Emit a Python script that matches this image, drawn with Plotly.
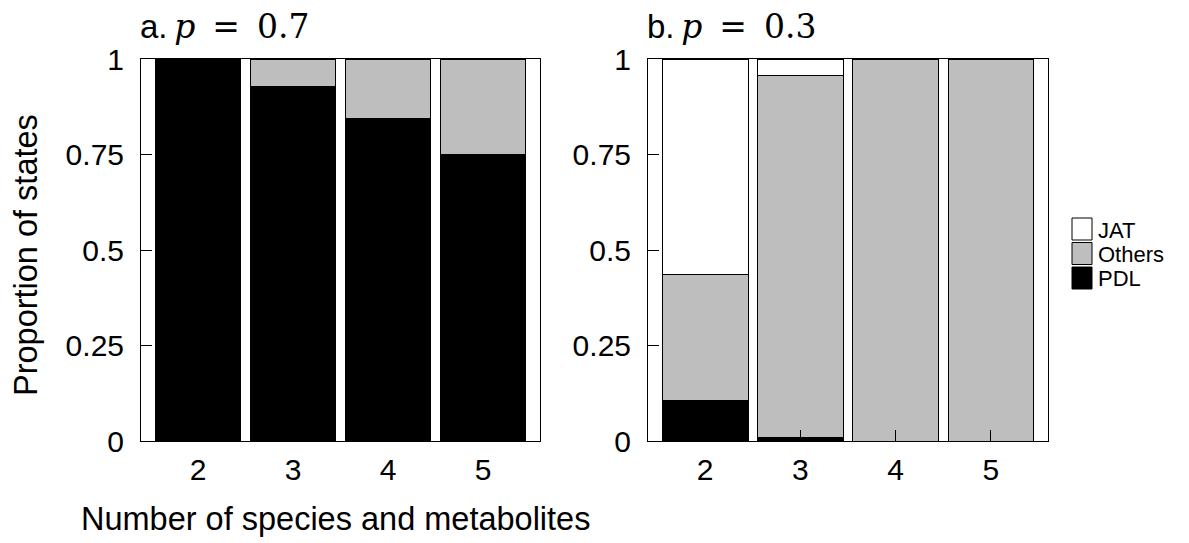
import plotly.graph_objects as go

categories = [2, 3, 4, 5]
a_pdl = [1.0, 0.929, 0.843, 0.749]
a_others = [0.0, 0.071, 0.157, 0.251]
a_jat = [0.0, 0.0, 0.0, 0.0]
b_pdl = [0.105, 0.008, 0.0, 0.0]
b_others = [0.330, 0.948, 1.0, 1.0]
b_jat = [0.565, 0.044, 0.0, 0.0]
y_ticks = [0, 0.25, 0.5, 0.75, 1]
y_ticklabels = ["0", "0.25", "0.5", "0.75", "1"]
series_names = ["PDL", "Others", "JAT"]
series_colors = ["#000000", "#bebebe", "#ffffff"]
legend_names = ["JAT", "Others", "PDL"]
legend_colors = ["#ffffff", "#bebebe", "#000000"]
panel_titles = [("a.", "0.7"), ("b.", "0.3")]

W, H = 1189, 543
OFF = 8  # page body margin
FONT = "Liberation Sans, Arial, Helvetica, sans-serif"
MATH = "DejaVu Serif, Liberation Serif, serif"

fig = go.Figure()
panels = [("x", "y", [a_pdl, a_others, a_jat]), ("x2", "y2", [b_pdl, b_others, b_jat])]
for xa, ya, series in panels:
    for name, col, vals in zip(series_names, series_colors, series):
        fig.add_trace(go.Bar(
            x=categories, y=vals, name=name, xaxis=xa, yaxis=ya,
            marker=dict(color=col, line=dict(color="black", width=1)),
            width=0.9, showlegend=False,
        ))


def px_x(v):
    return (v - OFF) / W


def px_y(v):
    return 1 - (v - OFF) / H


ydom = [px_y(441), px_y(59)]
axis_common = dict(
    showline=True, linecolor="black", linewidth=1, mirror=True,
    ticks="inside", ticklen=11, tickwidth=1, tickcolor="black",
    showgrid=False, zeroline=False, automargin=False,
    tickfont=dict(family=FONT, size=30, color="black"),
)
fig.update_layout(
    template="none",
    width=W, height=H,
    margin=dict(l=0, r=0, t=0, b=0, pad=0),
    paper_bgcolor="white", plot_bgcolor="white",
    barmode="stack", bargap=0.1,
    font=dict(family=FONT, color="black"),
    showlegend=False,
    xaxis=dict(domain=[px_x(141), px_x(540)], range=[1.4, 5.6], tickvals=categories,
               anchor="y", ticklabelstandoff=2, **axis_common),
    yaxis=dict(domain=ydom, range=[0, 1], tickvals=y_ticks, ticktext=y_ticklabels,
               anchor="x", ticklabelstandoff=10, **axis_common),
    xaxis2=dict(domain=[px_x(648), px_x(1048)], range=[1.4, 5.6], tickvals=categories,
                anchor="y2", ticklabelstandoff=2, **axis_common),
    yaxis2=dict(domain=ydom, range=[0, 1], tickvals=y_ticks, ticktext=y_ticklabels,
                anchor="x2", ticklabelstandoff=10, **axis_common),
)

annotations = []
for (lab, pval), x0 in zip(panel_titles, [139, 646]):
    annotations.append(dict(
        text="%s\u2009<span style='font-family:%s'><i>p</i>\u2009 = \u2009%s</span>" % (lab, MATH, pval),
        x=px_x(x0), y=px_y(47), xref="paper", yref="paper",
        xanchor="left", yanchor="bottom", showarrow=False, borderpad=0,
        font=dict(family=FONT, size=33, color="black")))

annotations += [
    dict(text="Proportion of states", textangle=-90,
         x=px_x(26), y=px_y(255), xref="paper", yref="paper",
         xanchor="center", yanchor="middle", showarrow=False,
         font=dict(family=FONT, size=32.5, color="black")),
    dict(text="Number of species and metabolites",
         x=px_x(335), y=px_y(519), xref="paper", yref="paper",
         xanchor="center", yanchor="middle", showarrow=False,
         font=dict(family=FONT, size=32.5, color="black")),
]

# legend (key) drawn as boxes with labels
shapes = []
box_tops = [218, 242.5, 267]
for name, col, top in zip(legend_names, legend_colors, box_tops):
    shapes.append(dict(type="rect", xref="paper", yref="paper",
                       x0=px_x(1072), x1=px_x(1092), y0=px_y(top + 22), y1=px_y(top),
                       fillcolor=col, line=dict(color="black", width=1)))
    annotations.append(dict(text=name, x=px_x(1097), y=px_y(top + 12),
                            xref="paper", yref="paper", xanchor="left", yanchor="middle",
                            showarrow=False, borderpad=0,
                            font=dict(family=FONT, size=22, color="black")))

fig.update_layout(annotations=annotations, shapes=shapes)

fig.write_html("out.html")
